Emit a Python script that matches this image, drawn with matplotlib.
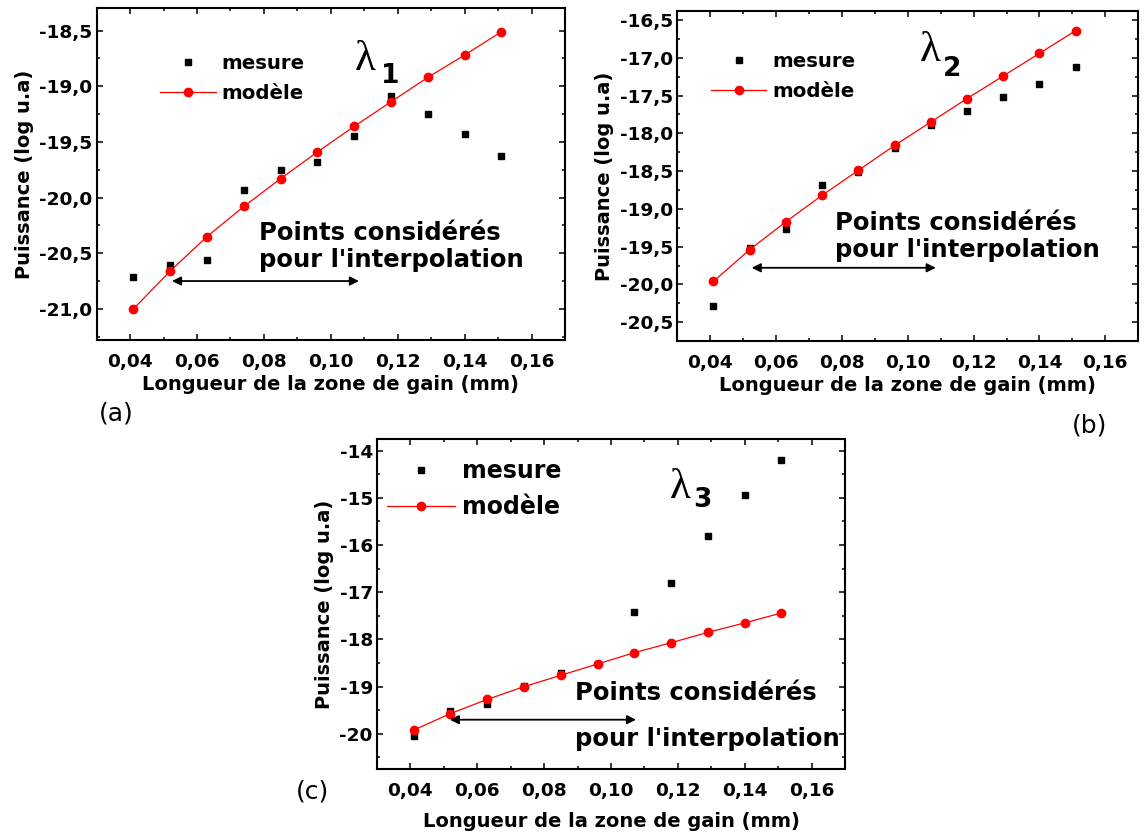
import matplotlib
matplotlib.use("Agg")
import matplotlib.pyplot as plt
from matplotlib.ticker import FuncFormatter, MultipleLocator, AutoMinorLocator

# longueur de la zone de gain (mm), commune aux trois panneaux
longueur = [0.041, 0.052, 0.063, 0.074, 0.085, 0.096, 0.107, 0.118, 0.129, 0.140, 0.151]

# (a) lambda 1
mesure_a = [-20.71, -20.61, -20.56, -19.93, -19.75, -19.68, -19.45, -19.09, -19.25, -19.43, -19.63]
modele_a = [-21.00, -20.66, -20.35, -20.08, -19.83, -19.59, -19.36, -19.14, -18.92, -18.72, -18.51]

# (b) lambda 2
mesure_b = [-20.28, -19.52, -19.27, -18.69, -18.51, -18.19, -17.89, -17.71, -17.52, -17.34, -17.12]
modele_b = [-19.96, -19.54, -19.17, -18.82, -18.49, -18.16, -17.85, -17.54, -17.24, -16.94, -16.64]

# (c) lambda 3
mesure_c = [-20.04, -19.52, -19.36, -18.98, -18.72, -18.51, -17.42, -16.80, -15.81, -14.94, -14.21]
modele_c = [-19.92, -19.57, -19.27, -19.00, -18.76, -18.52, -18.28, -18.07, -17.85, -17.65, -17.44]

plt.rcParams['font.family'] = ['DejaVu Sans']
plt.rcParams['axes.linewidth'] = 1.5

fig = plt.figure(figsize=(11.44, 8.40), dpi=100)

ax_a = fig.add_axes([0.0845, 0.5952, 0.4094, 0.3949])
ax_b = fig.add_axes([0.5920, 0.5940, 0.4030, 0.3929])
ax_c = fig.add_axes([0.3295, 0.0842, 0.4091, 0.3929])


def style_axis(ax, ylim, ymajor, yfmt, xpad):
    ax.set_xlim(0.03, 0.17)
    ax.set_ylim(*ylim)
    ax.xaxis.set_major_locator(MultipleLocator(0.02))
    ax.xaxis.set_minor_locator(AutoMinorLocator(2))
    ax.yaxis.set_major_locator(MultipleLocator(ymajor))
    ax.yaxis.set_minor_locator(AutoMinorLocator(2))
    ax.xaxis.set_major_formatter(FuncFormatter(lambda v, p: f"{v:.2f}".replace('.', ',')))
    ax.yaxis.set_major_formatter(FuncFormatter(lambda v, p: format(v, yfmt).replace('.', ',')))
    ax.tick_params(which='both', direction='in', top=True, right=True, width=1.1)
    ax.tick_params(which='major', length=4)
    ax.tick_params(which='minor', length=2.3)
    ax.tick_params(axis='x', which='major', labelsize=13.3, pad=9)
    ax.tick_params(axis='y', which='major', labelsize=13.3, pad=3)
    for lab in ax.get_xticklabels() + ax.get_yticklabels():
        lab.set_fontweight('bold')
    ax.set_xlabel('Longueur de la zone de gain (mm)', fontsize=14, fontweight='bold', labelpad=xpad)
    ax.set_ylabel('Puissance (log u.a)', fontsize=14, fontweight='bold', labelpad=4)


def draw_panel(ax, mesure, modele, ylim, ymajor, yfmt, leg_anchor, leg_size,
               handle_len, spacing, xpad=3):
    ax.plot(longueur, mesure, linestyle='none', marker='s', markersize=5,
            color='black', label='mesure')
    ax.plot(longueur, modele, color='#ff0000', linewidth=0.9, marker='o',
            markersize=6, label='modèle')
    style_axis(ax, ylim, ymajor, yfmt, xpad)
    leg = ax.legend(loc='upper left', bbox_to_anchor=leg_anchor, frameon=False,
                    borderpad=0, borderaxespad=0, handlelength=handle_len,
                    handletextpad=0.3, labelspacing=spacing,
                    prop={'size': leg_size, 'weight': 'bold'})
    leg.legend_handles[0].set_markersize(4)


draw_panel(ax_a, mesure_a, modele_a, (-21.28, -18.30), 0.5, '.1f', (0.136, 0.862), 14.2, 2.8, 0.55)
draw_panel(ax_b, mesure_b, modele_b, (-20.75, -16.38), 0.5, '.1f', (0.073, 0.875), 14.2, 2.8, 0.55)
draw_panel(ax_c, mesure_c, modele_c, (-20.75, -13.76), 1, '.0f', (0.021, 0.94), 17, 2.9, 0.5, xpad=9)

arrow = dict(arrowstyle='<|-|>', color='black', lw=1.3, mutation_scale=13,
             shrinkA=0, shrinkB=0)
txt = dict(fontsize=17.5, fontweight='bold', ha='left', va='center')
lam = dict(fontsize=31, family='Liberation Serif', va='baseline')

# (a)
ax_a.annotate('', xy=(0.1084, -20.75), xytext=(0.0525, -20.75), arrowprops=arrow)
ax_a.text(0.0785, -20.44, "Points considérés\npour l'interpolation", linespacing=1.15, **txt)
ax_a.text(0.1073, -18.85, 'λ', **lam)
ax_a.text(0.1150, -18.97, '1', fontsize=19, fontweight='bold', va='baseline')

# (b)
ax_b.annotate('', xy=(0.1085, -19.78), xytext=(0.0526, -19.78), arrowprops=arrow)
ax_b.text(0.0778, -19.365, "Points considérés\npour l'interpolation", linespacing=1.15, **txt)
ax_b.text(0.1036, -17.04, 'λ', **lam)
ax_b.text(0.1107, -17.24, '2', fontsize=19, fontweight='bold', va='baseline')

# (c)
ax_c.annotate('', xy=(0.1075, -19.70), xytext=(0.0518, -19.70), arrowprops=arrow)
ax_c.text(0.0893, -19.13, 'Points considérés', **txt)
ax_c.text(0.0893, -20.11, "pour l'interpolation", **txt)
ax_c.text(0.1177, -15.00, 'λ', **lam)
ax_c.text(0.1246, -15.19, '3', fontsize=19, fontweight='bold', va='baseline')

fig.text(116 / 1144, 1 - 414 / 840, '(a)', fontsize=18, ha='center', va='center')
fig.text(1090 / 1144, 1 - 425 / 840, '(b)', fontsize=18, ha='center', va='center')
fig.text(313 / 1144, 1 - 792 / 840, '(c)', fontsize=18, ha='center', va='center')

fig.savefig('out.png', dpi=100)
